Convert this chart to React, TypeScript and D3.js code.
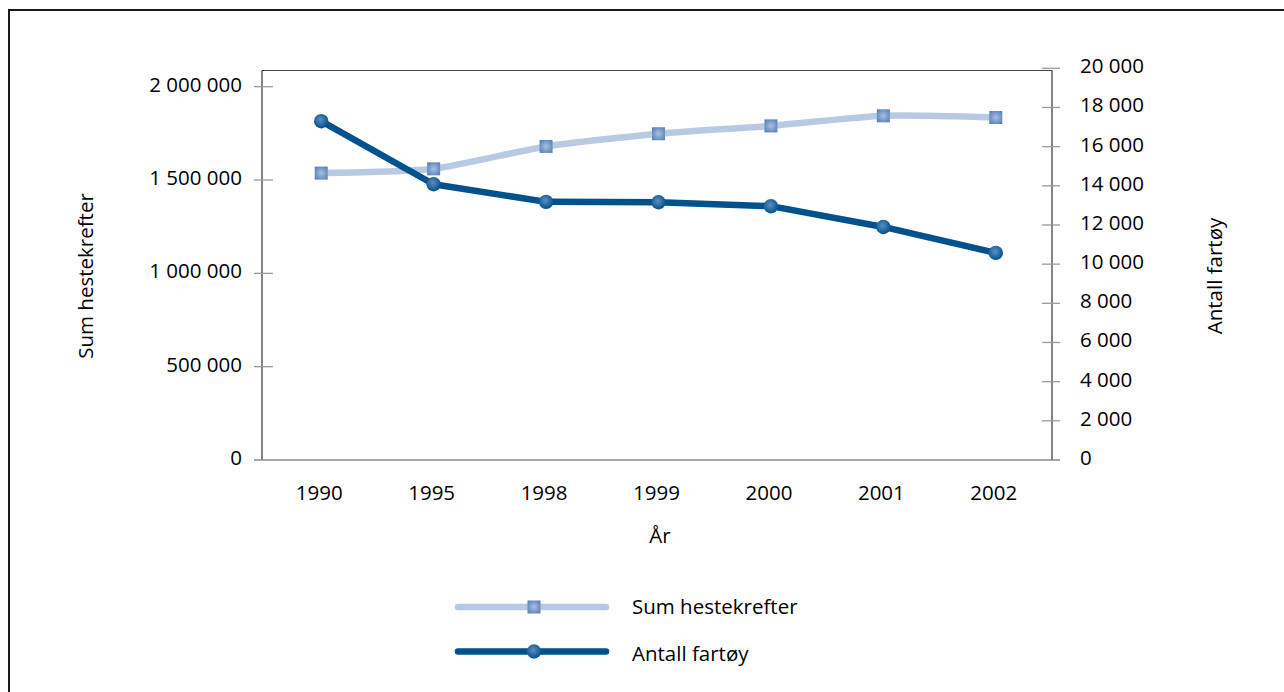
import React from "react";
import * as d3 from "d3";

const years = ["1990", "1995", "1998", "1999", "2000", "2001", "2002"];
const sumHestekrefter = [1537000, 1560000, 1680000, 1748000, 1790000, 1844000, 1835000];
const antallFartoy = [17300, 14080, 13180, 13160, 12960, 11900, 10575];
const leftTicks = [0, 500000, 1000000, 1500000, 2000000];
const rightTicks = [0, 2000, 4000, 6000, 8000, 10000, 12000, 14000, 16000, 18000, 20000];

const W = 1284;
const H = 692;
const FONT = "'Open Sans', 'Noto Sans', sans-serif";
const LIGHT = "#b8c9e2";
const DARK = "#00518c";

const fmt = (v: number) => d3.format(",")(v).replace(/,/g, " ");

export default function App() {
  const plotLeft = 262;
  const plotRight = 1052;
  const plotTop = 70.5;
  const plotBottom = 460;

  const x = d3.scalePoint<string>().domain(years).range([265, 1052]).padding(0.5);
  const yL = d3.scaleLinear().domain([0, 2000000]).range([plotBottom, 86.7]);
  const yR = d3.scaleLinear().domain([0, 20000]).range([plotBottom, 68.3]);

  const lightLine = d3
    .line<number>()
    .x((_, i) => x(years[i]) as number)
    .y((d) => yL(d))
    .curve(d3.curveCardinal.tension(0.4));
  const darkLine = d3
    .line<number>()
    .x((_, i) => x(years[i]) as number)
    .y((d) => yR(d));

  const textStyle = { fontFamily: FONT, fontSize: 20.5, fill: "#000" } as const;

  return (
    <svg
      width={W}
      height={H}
      style={{ position: "absolute", left: 0, top: 0, background: "#fff" }}
    >
      <defs>
        <radialGradient id="gSq" cx="50%" cy="50%" r="60%">
          <stop offset="0%" stopColor="#a9c0e0" />
          <stop offset="100%" stopColor="#5a82ba" />
        </radialGradient>
        <radialGradient id="gCi" cx="45%" cy="40%" r="60%">
          <stop offset="0%" stopColor="#5b8fc4" />
          <stop offset="100%" stopColor="#00508a" />
        </radialGradient>
      </defs>
      <rect x={0} y={0} width={W} height={H} fill="#fff" />
      {/* outer frame */}
      <rect x={9} y={10} width={W + 20} height={H + 20} fill="none" stroke="#1a1a1a" strokeWidth={2} />

      {/* plot box */}
      <line x1={plotLeft} x2={plotRight} y1={plotTop} y2={plotTop} stroke="#444" strokeWidth={1} />
      <line x1={plotLeft} x2={plotLeft} y1={plotTop} y2={plotBottom} stroke="#333" strokeWidth={1.2} />
      <line x1={plotRight} x2={plotRight} y1={plotTop} y2={plotBottom} stroke="#333" strokeWidth={1.2} />
      <line x1={254} x2={1060} y1={plotBottom} y2={plotBottom} stroke="#8a8a8a" strokeWidth={1.6} />

      {/* left axis ticks */}
      {leftTicks.map((t) => (
        <g key={"l" + t}>
          {t !== 0 && (
            <line x1={254} x2={273} y1={yL(t)} y2={yL(t)} stroke="#9a9a9a" strokeWidth={1.3} />
          )}
          <text x={242} y={yL(t) + 5} textAnchor="end" style={textStyle}>
            {fmt(t)}
          </text>
        </g>
      ))}

      {/* right axis ticks */}
      {rightTicks.map((t) => (
        <g key={"r" + t}>
          {t !== 0 && (
            <line x1={1042} x2={1060} y1={yR(t)} y2={yR(t)} stroke="#9a9a9a" strokeWidth={1.3} />
          )}
          <text x={1080} y={yR(t) + 5} textAnchor="start" style={textStyle}>
            {fmt(t)}
          </text>
        </g>
      ))}

      {/* x labels */}
      {years.map((yr) => (
        <text key={yr} x={(x(yr) as number) - 2} y={500} textAnchor="middle" style={textStyle}>
          {yr}
        </text>
      ))}

      {/* axis titles */}
      <text x={660} y={543} textAnchor="middle" style={textStyle}>
        År
      </text>
      <text transform={`translate(93,276) rotate(-90)`} textAnchor="middle" style={textStyle}>
        Sum hestekrefter
      </text>
      <text transform={`translate(1222,276) rotate(-90)`} textAnchor="middle" style={textStyle}>
        Antall fartøy
      </text>

      {/* series lines */}
      <path d={lightLine(sumHestekrefter) || ""} fill="none" stroke={LIGHT} strokeWidth={6.5} strokeLinejoin="round" />
      {sumHestekrefter.map((v, i) => (
        <rect
          key={"s" + i}
          x={(x(years[i]) as number) - 6.5}
          y={yL(v) - 6.5}
          width={13}
          height={13}
          fill="url(#gSq)"
        />
      ))}
      <path d={darkLine(antallFartoy) || ""} fill="none" stroke={DARK} strokeWidth={6.5} strokeLinejoin="round" />
      {antallFartoy.map((v, i) => (
        <circle key={"c" + i} cx={x(years[i]) as number} cy={yR(v)} r={7.2} fill="url(#gCi)" />
      ))}

      {/* legend */}
      <line x1={458} x2={606} y1={607} y2={607} stroke={LIGHT} strokeWidth={6.5} strokeLinecap="round" />
      <rect x={534 - 6.5} y={607 - 6.5} width={13} height={13} fill="url(#gSq)" />
      <text x={632} y={613.5} style={textStyle}>
        Sum hestekrefter
      </text>
      <line x1={458} x2={606} y1={651.5} y2={651.5} stroke={DARK} strokeWidth={6.5} strokeLinecap="round" />
      <circle cx={534} cy={651.5} r={7.2} fill="url(#gCi)" />
      <text x={632} y={661} style={textStyle}>
        Antall fartøy
      </text>
    </svg>
  );
}
